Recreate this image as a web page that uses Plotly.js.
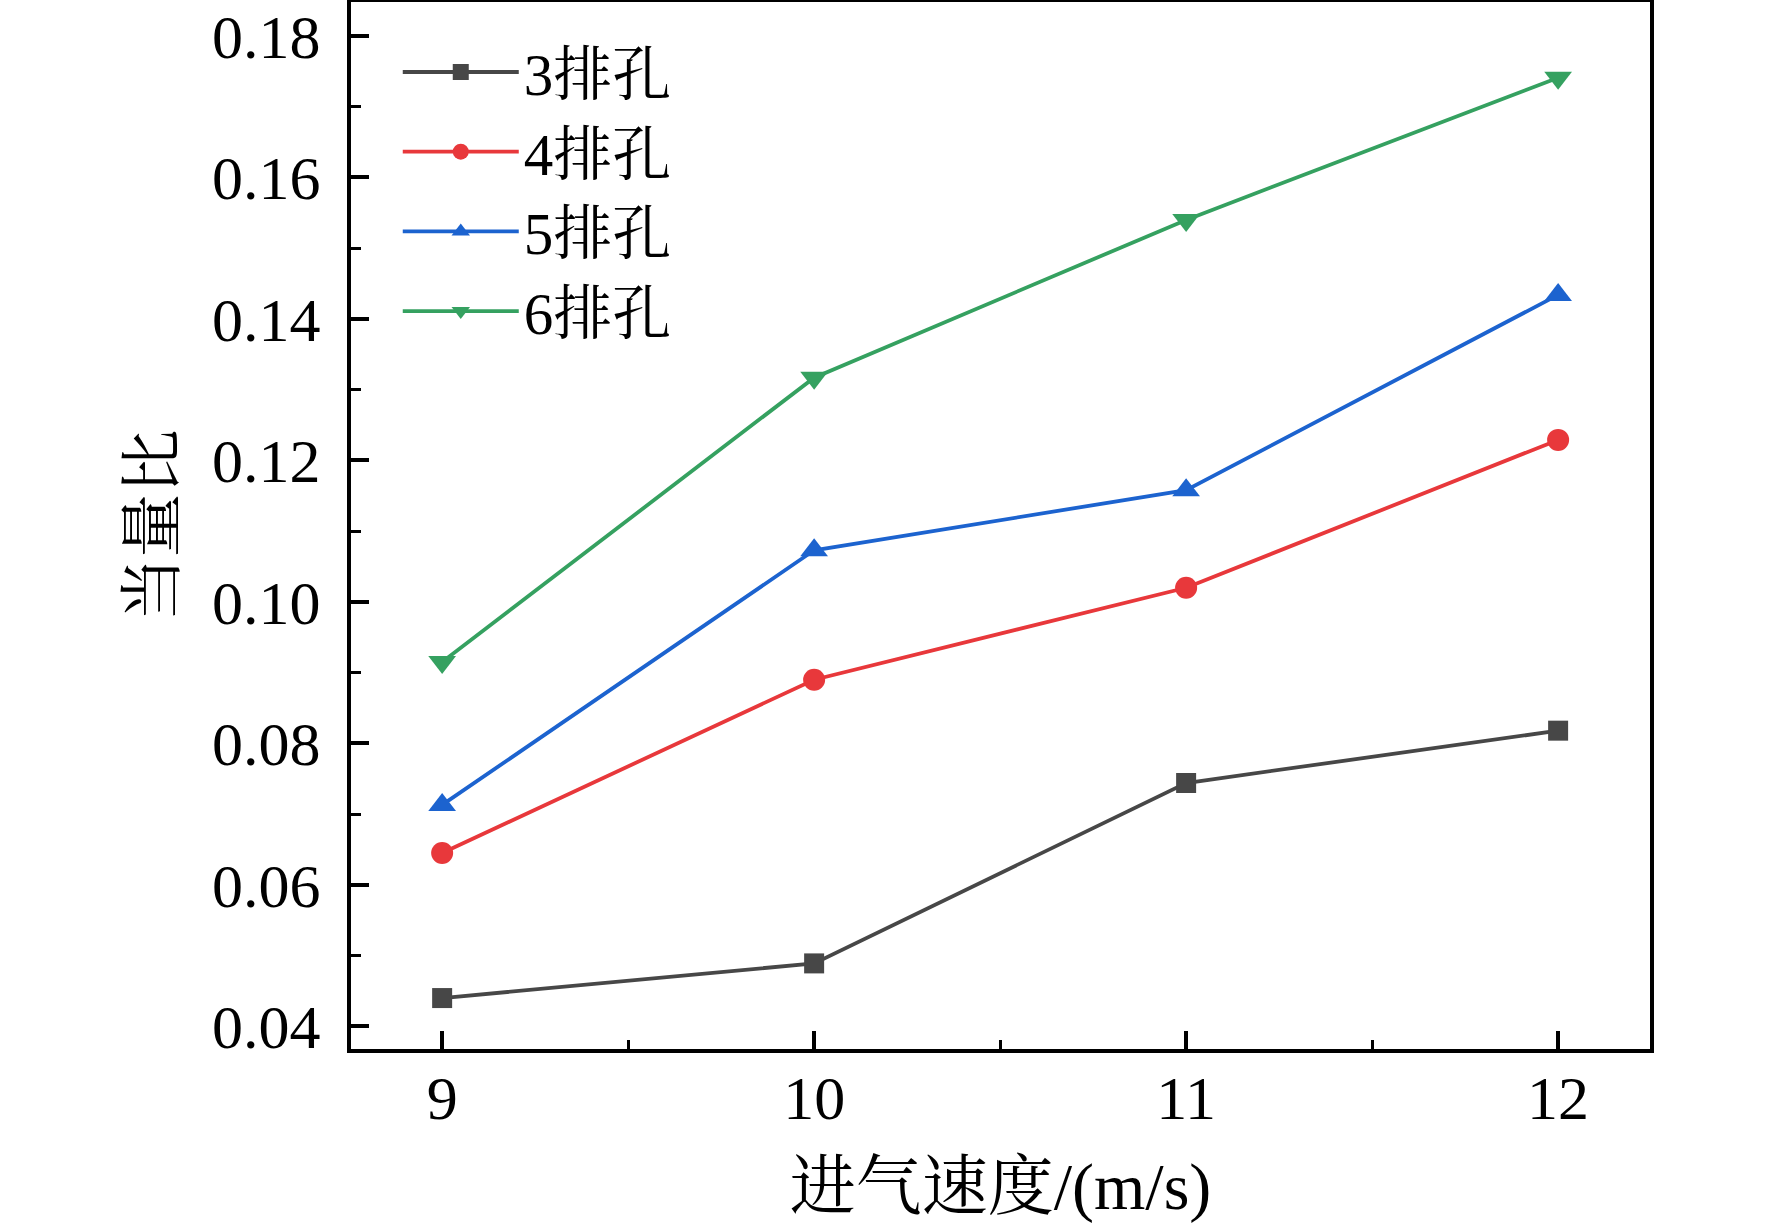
<!DOCTYPE html>
<html>
<head>
<meta charset="utf-8">
<script src="https://cdn.plot.ly/plotly-3.0.1.min.js"></script>
<style>html,body{margin:0;padding:0;background:#fff;}#chart{width:1772px;height:1224px;}</style>
</head>
<body>
<div id="chart"></div>
<script>
const speeds = [9, 10, 11, 12];
const seriesNames = ['3排孔', '4排孔', '5排孔', '6排孔'];
const rows3 = [0.0440, 0.0489, 0.0744, 0.0818];
const rows4 = [0.0645, 0.0890, 0.1020, 0.1229];
const rows5 = [0.0713, 0.1073, 0.1158, 0.1434];
const rows6 = [0.0915, 0.1317, 0.1540, 0.1741];
const xTitle = '进气速度/(m/s)';
const yTitle = '当量比';

const FONT = '"Liberation Serif", "Times New Roman", "Noto Serif CJK SC", "Noto Sans CJK SC", serif';
const colors = ['#474747', '#e8383b', '#1c63cf', '#35a160'];
const symbols = ['square', 'circle', 'triangle-up', 'triangle-down'];
const sizes = [20, 22, 24, 24];
const values = [rows3, rows4, rows5, rows6];

const traces = values.map((v, i) => ({
  x: speeds, y: v, name: seriesNames[i], type: 'scatter', mode: 'lines+markers',
  line: {color: colors[i], width: 3.8},
  marker: {color: colors[i], symbol: symbols[i], size: sizes[i]}
}));

const axisCommon = {
  showline: true, mirror: true, linecolor: '#000', linewidth: 4,
  ticks: 'inside', tickcolor: '#000', tickwidth: 4, ticklen: 18,
  showgrid: false, zeroline: false,
  tickfont: {family: FONT, size: 62, color: '#000'}
};

const layout = {
  width: 1772, height: 1224,
  paper_bgcolor: '#fff', plot_bgcolor: '#fff',
  margin: {l: 351, r: 122, t: 2, b: 175},
  showlegend: true,
  legend: {
    x: 0.036, y: 0.976, xanchor: 'left', yanchor: 'top',
    bgcolor: 'rgba(0,0,0,0)', borderwidth: 0,
    font: {family: FONT, size: 59, color: '#000'},
    itemwidth: 116, itemsizing: 'trace'
  },
  xaxis: Object.assign({}, axisCommon, {
    range: [8.755, 12.247], tickvals: speeds, ticktext: speeds.map(String),
    minor: {dtick: 0.5, ticks: 'inside', ticklen: 9, tickwidth: 3, tickcolor: '#000'},
    ticklabelstandoff: -8,
    title: {text: xTitle, font: {family: FONT, size: 66, color: '#000'}, standoff: 48}
  }),
  yaxis: Object.assign({}, axisCommon, {
    range: [0.0368, 0.1848], dtick: 0.02, tick0: 0, tickformat: '.2f',
    minor: {dtick: 0.01, ticks: 'inside', ticklen: 10, tickwidth: 3, tickcolor: '#000'},
    ticklabelstandoff: 14,
    title: {text: yTitle, font: {family: FONT, size: 64, color: '#000'}, standoff: 18}
  })
};

Plotly.newPlot('chart', traces, layout, {displayModeBar: false, staticPlot: true});
</script>
</body>
</html>
